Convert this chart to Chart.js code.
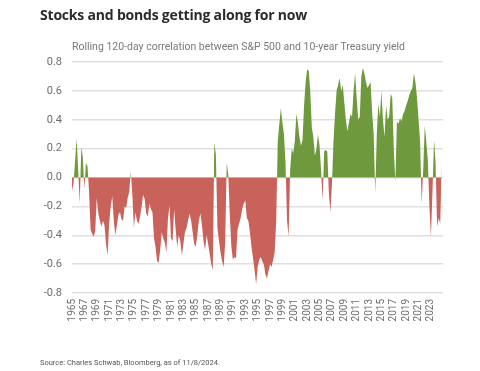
<!DOCTYPE html>
<html lang="en">
<head>
  <meta charset="UTF-8">
  <title>Stocks and bonds getting along for now</title>
  <script src="https://cdn.jsdelivr.net/npm/chart.js"></script>
  <style>
    html, body { margin: 0; padding: 0; background: #fff; }
    #wrap { position: relative; width: 480px; height: 371px; overflow: hidden; font-family: Roboto, Arial, sans-serif; }
    #chart { position: absolute; left: 0; top: 0; }
    .title { position: absolute; left: 40px; top: 5px; font: bold 14px "Open Sans", Arial, sans-serif; color: #2b2b2b; letter-spacing: -0.2px; }
    .sub { position: absolute; left: 72px; top: 40px; font-size: 10.5px; color: #7a7a7a; }
    .source { position: absolute; left: 40px; top: 358px; font-size: 7.5px; color: #555; }
  </style>
</head>
<body>
  <div id="wrap">
    <canvas id="chart" width="480" height="371"></canvas>
    <div class="title">Stocks and bonds getting along for now</div>
    <div class="sub">Rolling 120-day correlation between S&amp;P 500 and 10-year Treasury yield</div>
    <div class="source">Source: Charles Schwab, Bloomberg, as of 11/8/2024.</div>
  </div>

  <script>
    // quarterly readings, starting in Q1 1965
    const startYear = 1965;
    const correlation = [
      -0.09, -0.04, 0.12, 0.27, 0.05, -0.18, 0.21, 0.14, -0.08, 0.10,
      0.08, -0.09, -0.36, -0.39, -0.41, -0.37, -0.14, -0.25, -0.30, -0.34,
      -0.30, -0.33, -0.46, -0.54, -0.32, -0.20, -0.13, -0.30, -0.40, -0.33,
      -0.26, -0.24, -0.29, -0.30, -0.20, -0.21, -0.14, -0.10, 0.04, -0.12,
      -0.35, -0.24, -0.30, -0.32, -0.27, -0.20, -0.12, -0.15, -0.25, -0.27,
      -0.18, -0.22, -0.24, -0.42, -0.48, -0.58, -0.59, -0.50, -0.38, -0.42,
      -0.45, -0.52, -0.29, -0.19, -0.42, -0.44, -0.22, -0.36, -0.48, -0.40,
      -0.44, -0.54, -0.46, -0.38, -0.35, -0.30, -0.25, -0.30, -0.38, -0.46,
      -0.48, -0.40, -0.30, -0.25, -0.33, -0.44, -0.50, -0.40, -0.46, -0.53,
      -0.60, -0.64, 0.24, 0.16, -0.35, -0.44, -0.52, -0.58, -0.62, -0.45,
      0.10, 0.02, -0.26, -0.48, -0.57, -0.55, -0.56, -0.36, -0.32, -0.28,
      -0.22, -0.18, -0.16, -0.28, -0.30, -0.38, -0.48, -0.56, -0.64, -0.74,
      -0.62, -0.57, -0.55, -0.58, -0.60, -0.67, -0.70, -0.65, -0.60, -0.62,
      -0.57, -0.52, -0.30, 0.25, 0.37, 0.48, 0.38, 0.30, 0.10, -0.30,
      -0.41, 0.05, 0.20, 0.17, 0.25, 0.44, 0.38, 0.28, 0.22, 0.26,
      0.50, 0.66, 0.75, 0.74, 0.60, 0.35, 0.28, 0.15, 0.20, 0.30,
      0.22, 0.05, -0.16, 0.18, 0.19, 0.18, -0.10, -0.24, -0.05, 0.25,
      0.44, 0.60, 0.64, 0.69, 0.60, 0.64, 0.52, 0.40, 0.32, 0.38,
      0.44, 0.42, 0.60, 0.72, 0.55, 0.40, 0.42, 0.70, 0.76, 0.72,
      0.66, 0.62, 0.64, 0.66, 0.45, 0.30, -0.11, 0.30, 0.51, 0.42,
      0.60, 0.40, 0.28, 0.50, 0.40, 0.42, 0.58, 0.55, 0.20, -0.03,
      0.39, 0.37, 0.41, 0.39, 0.44, 0.46, 0.50, 0.53, 0.57, 0.60,
      0.62, 0.72, 0.66, 0.55, 0.40, 0.25, -0.18, 0.05, 0.36, 0.25,
      0.12, -0.20, -0.41, -0.10, 0.26, 0.10, -0.34, -0.28, -0.32, 0.10
    ];
    const tickYears = [];
    for (let y = 1965; y <= 2023; y += 2) tickYears.push(y);

    const points = correlation.map((v, i) => ({ x: startYear + i / 4, y: v }));

    const ctx = document.getElementById('chart').getContext('2d');
    new Chart(ctx, {
      type: 'line',
      data: {
        datasets: [{
          data: points,
          borderColor: 'rgba(0,0,0,0)',
          borderWidth: 0,
          pointRadius: 0,
          tension: 0,
          fill: { target: 'origin', above: '#6e9a3d', below: '#c8625a' }
        }]
      },
      options: {
        responsive: false,
        animation: false,
        layout: { padding: { left: 28, right: 37, top: 62, bottom: 33 } },
        plugins: { legend: { display: false }, tooltip: { enabled: false } },
        scales: {
          x: {
            type: 'linear',
            min: 1965,
            max: 2024.95,
            grid: { display: false, drawTicks: false },
            border: { display: false },
            afterBuildTicks: s => { s.ticks = tickYears.map(v => ({ value: v })); },
            afterFit: s => { s.height = 45; },
            ticks: {
              autoSkip: false,
              minRotation: 90,
              maxRotation: 90,
              padding: 6,
              color: '#6e6e6e',
              font: { family: 'Roboto', size: 10 },
              callback: v => String(v)
            }
          },
          y: {
            min: -0.8,
            max: 0.8,
            grid: { color: '#e0e0e0', lineWidth: 1.5, drawTicks: false },
            border: { display: false },
            afterFit: s => { s.width = 44; },
            ticks: {
              stepSize: 0.2,
              padding: 10,
              color: '#6e6e6e',
              font: { family: 'Roboto', size: 11 },
              callback: v => v.toFixed(1)
            }
          }
        }
      }
    });
  </script>
</body>
</html>
